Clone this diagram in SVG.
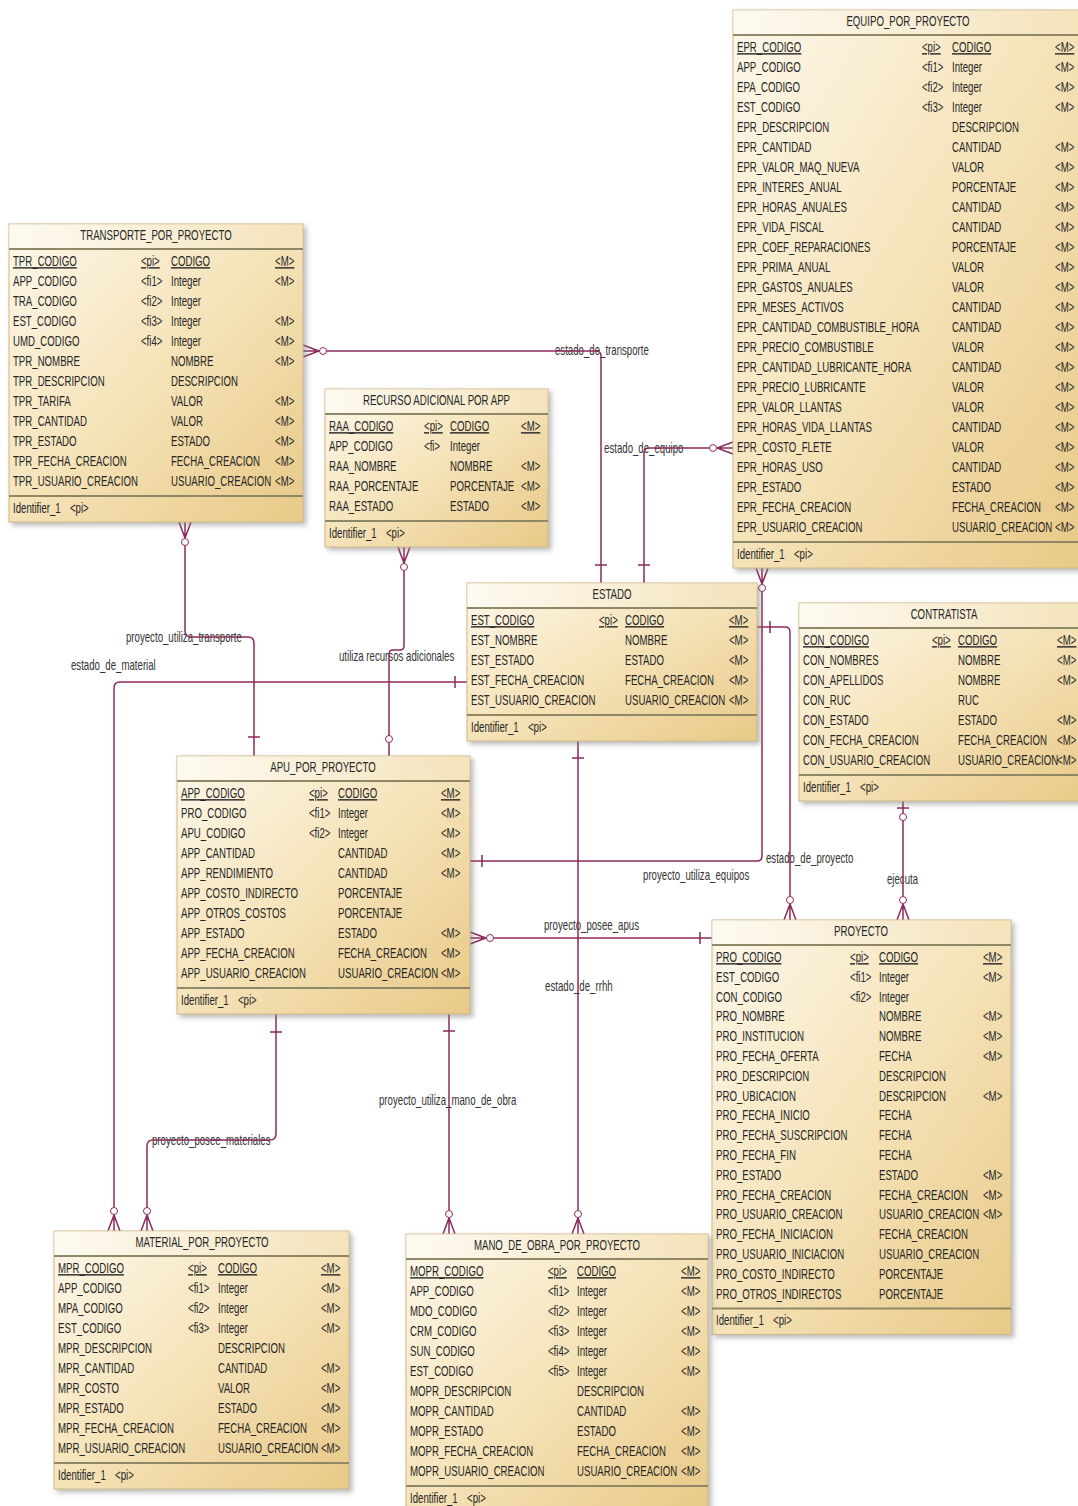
<svg xmlns="http://www.w3.org/2000/svg" width="1078" height="1506" viewBox="0 0 1078 1506">
<defs>
  <linearGradient id="eg" x1="0" y1="0" x2="1" y2="1">
    <stop offset="0" stop-color="#fdf8ec"/>
    <stop offset="0.45" stop-color="#f6e5bd"/>
    <stop offset="1" stop-color="#e8c987"/>
  </linearGradient>
  <linearGradient id="hg" x1="0" y1="0" x2="1" y2="0">
    <stop offset="0" stop-color="#fdfaf1"/>
    <stop offset="1" stop-color="#f4e3bb"/>
  </linearGradient>
  <filter id="sh" x="-5%" y="-5%" width="115%" height="115%">
    <feDropShadow dx="3" dy="3" stdDeviation="2.5" flood-color="#7a7a7a" flood-opacity="0.5"/>
  </filter>
  <style>
    .box{fill:url(#eg);stroke:#cdb88a;stroke-width:1;filter:url(#sh)}
    .hdr{fill:url(#hg)}
    .sep{stroke:#8f8866;stroke-width:2;fill:none}
    text{font-family:"Liberation Sans",Arial,sans-serif;font-size:14px;fill:#262626}
    .ttl{text-anchor:middle}
    .u{text-decoration:underline}
    .lbl{fill:#333}
    .conn path{fill:none;stroke:#8c2b5b;stroke-width:1.5}
    .conn circle{fill:#fff;stroke:#8c2b5b;stroke-width:1}
  </style>
</defs>
<rect width="1078" height="1506" fill="#ffffff"/>

<!-- relationship names (narrow text: x scaled by 0.69) -->
<g id="labels" transform="scale(0.69 1)">
  <text class="lbl" x="804.3" y="355">estado_de_transporte</text>
  <text class="lbl" x="875.4" y="453">estado_de_equipo</text>
  <text class="lbl" x="182.6" y="642">proyecto_utiliza_transporte</text>
  <text class="lbl" x="102.9" y="670">estado_de_material</text>
  <text class="lbl" x="491.3" y="661">utiliza recursos adicionales</text>
  <text class="lbl" x="1110.1" y="863">estado_de_proyecto</text>
  <text class="lbl" x="931.9" y="880">proyecto_utiliza_equipos</text>
  <text class="lbl" x="1285.5" y="884">ejecuta</text>
  <text class="lbl" x="788.4" y="930">proyecto_posee_apus</text>
  <text class="lbl" x="789.9" y="991">estado_de_rrhh</text>
  <text class="lbl" x="549.3" y="1105">proyecto_utiliza_mano_de_obra</text>
  <text class="lbl" x="220.3" y="1145">proyecto_posee_materiales</text>
</g>

<!-- relationships -->
<g id="connectors" class="conn">
  <!-- estado_de_transporte -->
  <path d="M326.5 351H596Q601 351 601 356V583M595 565H607M303 345L319 351L303 357M303 351H319"/>
  <circle cx="323" cy="351" r="3.5"/>
  <!-- estado_de_equipo -->
  <path d="M709.5 448H649Q644 448 644 453V583M638 565H650M733 442L717 448L733 454M733 448H717"/>
  <circle cx="713" cy="448" r="3.5"/>
  <!-- proyecto_utiliza_equipos -->
  <path d="M762 591.5V856Q762 861 757 861H470M482 855V867M756 568L762 584L768 568M762 568V584"/>
  <circle cx="762" cy="588" r="3.5"/>
  <!-- estado_de_proyecto -->
  <path d="M757 627H785Q790 627 790 632V896.5M770 621V633M784 920L790 904L796 920M790 920V904"/>
  <circle cx="790" cy="900" r="3.5"/>
  <!-- ejecuta -->
  <path d="M903 801V813.5M903 820.5V896.5M897 808H909M897 920L903 904L909 920M903 920V904"/>
  <circle cx="903" cy="817" r="3.5"/>
  <circle cx="903" cy="900" r="3.5"/>
  <!-- proyecto_posee_apus -->
  <path d="M493.5 938H712M700 932V944M470 932L486 938L470 944M470 938H486"/>
  <circle cx="490" cy="938" r="3.5"/>
  <!-- estado_de_rrhh -->
  <path d="M578 741V1210.5M572 758H584M572 1234L578 1218L584 1234M578 1234V1218"/>
  <circle cx="578" cy="1214" r="3.5"/>
  <!-- proyecto_utiliza_mano_de_obra -->
  <path d="M449 1014V1210.5M443 1031H455M443 1234L449 1218L455 1234M449 1234V1218"/>
  <circle cx="449" cy="1214" r="3.5"/>
  <!-- proyecto_posee_materiales -->
  <path d="M276 1014V1134Q276 1140 270 1140H153Q147 1140 147 1146V1207.5M270 1032H282M141 1231L147 1215L153 1231M147 1231V1215"/>
  <circle cx="147" cy="1211" r="3.5"/>
  <!-- estado_de_material -->
  <path d="M467 682H120Q114 682 114 688V1207.5M455 676V688M108 1231L114 1215L120 1231M114 1231V1215"/>
  <circle cx="114" cy="1211" r="3.5"/>
  <!-- proyecto_utiliza_transporte -->
  <path d="M185 545.5V631Q185 637 191 637H248Q254 637 254 643V756M248 737H260M179 522L185 538L191 522M185 522V538"/>
  <circle cx="185" cy="542" r="3.5"/>
  <!-- utiliza recursos adicionales -->
  <path d="M404 570.5V646Q404 650 400 650H393Q389 650 389 654V735.5M389 742.5V756M398 547L404 563L410 547M404 547V563"/>
  <circle cx="404" cy="567" r="3.5"/>
  <circle cx="389" cy="739" r="3.5"/>
</g>

<!-- EQUIPO_POR_PROYECTO -->
<g id="equipo_por_proyecto">
  <rect class="box" x="733" y="10" width="347" height="558"/>
  <rect class="hdr" x="733.5" y="10.5" width="346" height="24.5"/>
  <path class="sep" d="M733 35H1080M733 542H1080"/>
  <g transform="scale(0.69 1)">
    <text class="ttl" x="1315.9" y="26.5">EQUIPO_POR_PROYECTO</text>
    <text><tspan class="u" x="1068.1" y="52">EPR_CODIGO</tspan><tspan x="1068.1" dy="20">APP_CODIGO</tspan><tspan x="1068.1" dy="20">EPA_CODIGO</tspan><tspan x="1068.1" dy="20">EST_CODIGO</tspan><tspan x="1068.1" dy="20">EPR_DESCRIPCION</tspan><tspan x="1068.1" dy="20">EPR_CANTIDAD</tspan><tspan x="1068.1" dy="20">EPR_VALOR_MAQ_NUEVA</tspan><tspan x="1068.1" dy="20">EPR_INTERES_ANUAL</tspan><tspan x="1068.1" dy="20">EPR_HORAS_ANUALES</tspan><tspan x="1068.1" dy="20">EPR_VIDA_FISCAL</tspan><tspan x="1068.1" dy="20">EPR_COEF_REPARACIONES</tspan><tspan x="1068.1" dy="20">EPR_PRIMA_ANUAL</tspan><tspan x="1068.1" dy="20">EPR_GASTOS_ANUALES</tspan><tspan x="1068.1" dy="20">EPR_MESES_ACTIVOS</tspan><tspan x="1068.1" dy="20">EPR_CANTIDAD_COMBUSTIBLE_HORA</tspan><tspan x="1068.1" dy="20">EPR_PRECIO_COMBUSTIBLE</tspan><tspan x="1068.1" dy="20">EPR_CANTIDAD_LUBRICANTE_HORA</tspan><tspan x="1068.1" dy="20">EPR_PRECIO_LUBRICANTE</tspan><tspan x="1068.1" dy="20">EPR_VALOR_LLANTAS</tspan><tspan x="1068.1" dy="20">EPR_HORAS_VIDA_LLANTAS</tspan><tspan x="1068.1" dy="20">EPR_COSTO_FLETE</tspan><tspan x="1068.1" dy="20">EPR_HORAS_USO</tspan><tspan x="1068.1" dy="20">EPR_ESTADO</tspan><tspan x="1068.1" dy="20">EPR_FECHA_CREACION</tspan><tspan x="1068.1" dy="20">EPR_USUARIO_CREACION</tspan></text>
    <text><tspan class="u" x="1336.2" y="52">&lt;pi&gt;</tspan><tspan x="1336.2" y="72">&lt;fi1&gt;</tspan><tspan x="1336.2" y="92">&lt;fi2&gt;</tspan><tspan x="1336.2" y="112">&lt;fi3&gt;</tspan></text>
    <text><tspan class="u" x="1379.7" y="52">CODIGO</tspan><tspan x="1379.7" dy="20">Integer</tspan><tspan x="1379.7" dy="20">Integer</tspan><tspan x="1379.7" dy="20">Integer</tspan><tspan x="1379.7" dy="20">DESCRIPCION</tspan><tspan x="1379.7" dy="20">CANTIDAD</tspan><tspan x="1379.7" dy="20">VALOR</tspan><tspan x="1379.7" dy="20">PORCENTAJE</tspan><tspan x="1379.7" dy="20">CANTIDAD</tspan><tspan x="1379.7" dy="20">CANTIDAD</tspan><tspan x="1379.7" dy="20">PORCENTAJE</tspan><tspan x="1379.7" dy="20">VALOR</tspan><tspan x="1379.7" dy="20">VALOR</tspan><tspan x="1379.7" dy="20">CANTIDAD</tspan><tspan x="1379.7" dy="20">CANTIDAD</tspan><tspan x="1379.7" dy="20">VALOR</tspan><tspan x="1379.7" dy="20">CANTIDAD</tspan><tspan x="1379.7" dy="20">VALOR</tspan><tspan x="1379.7" dy="20">VALOR</tspan><tspan x="1379.7" dy="20">CANTIDAD</tspan><tspan x="1379.7" dy="20">VALOR</tspan><tspan x="1379.7" dy="20">CANTIDAD</tspan><tspan x="1379.7" dy="20">ESTADO</tspan><tspan x="1379.7" dy="20">FECHA_CREACION</tspan><tspan x="1379.7" dy="20">USUARIO_CREACION</tspan></text>
    <text><tspan class="u" x="1529" y="52">&lt;M&gt;</tspan><tspan x="1529" y="72">&lt;M&gt;</tspan><tspan x="1529" y="92">&lt;M&gt;</tspan><tspan x="1529" y="112">&lt;M&gt;</tspan><tspan x="1529" y="152">&lt;M&gt;</tspan><tspan x="1529" y="172">&lt;M&gt;</tspan><tspan x="1529" y="192">&lt;M&gt;</tspan><tspan x="1529" y="212">&lt;M&gt;</tspan><tspan x="1529" y="232">&lt;M&gt;</tspan><tspan x="1529" y="252">&lt;M&gt;</tspan><tspan x="1529" y="272">&lt;M&gt;</tspan><tspan x="1529" y="292">&lt;M&gt;</tspan><tspan x="1529" y="312">&lt;M&gt;</tspan><tspan x="1529" y="332">&lt;M&gt;</tspan><tspan x="1529" y="352">&lt;M&gt;</tspan><tspan x="1529" y="372">&lt;M&gt;</tspan><tspan x="1529" y="392">&lt;M&gt;</tspan><tspan x="1529" y="412">&lt;M&gt;</tspan><tspan x="1529" y="432">&lt;M&gt;</tspan><tspan x="1529" y="452">&lt;M&gt;</tspan><tspan x="1529" y="472">&lt;M&gt;</tspan><tspan x="1529" y="492">&lt;M&gt;</tspan><tspan x="1529" y="512">&lt;M&gt;</tspan><tspan x="1529" y="532">&lt;M&gt;</tspan></text>
    <text x="1068.1" y="559">Identifier_1<tspan x="1150.7">&lt;pi&gt;</tspan></text>
  </g>
</g>

<!-- TRANSPORTE_POR_PROYECTO -->
<g id="transporte_por_proyecto">
  <rect class="box" x="9" y="224" width="294" height="298"/>
  <rect class="hdr" x="9.5" y="224.5" width="293" height="24.5"/>
  <path class="sep" d="M9 249H303M9 496H303"/>
  <g transform="scale(0.69 1)">
    <text class="ttl" x="226.1" y="240.5">TRANSPORTE_POR_PROYECTO</text>
    <text><tspan class="u" x="18.8" y="266">TPR_CODIGO</tspan><tspan x="18.8" dy="20">APP_CODIGO</tspan><tspan x="18.8" dy="20">TRA_CODIGO</tspan><tspan x="18.8" dy="20">EST_CODIGO</tspan><tspan x="18.8" dy="20">UMD_CODIGO</tspan><tspan x="18.8" dy="20">TPR_NOMBRE</tspan><tspan x="18.8" dy="20">TPR_DESCRIPCION</tspan><tspan x="18.8" dy="20">TPR_TARIFA</tspan><tspan x="18.8" dy="20">TPR_CANTIDAD</tspan><tspan x="18.8" dy="20">TPR_ESTADO</tspan><tspan x="18.8" dy="20">TPR_FECHA_CREACION</tspan><tspan x="18.8" dy="20">TPR_USUARIO_CREACION</tspan></text>
    <text><tspan class="u" x="204.3" y="266">&lt;pi&gt;</tspan><tspan x="204.3" y="286">&lt;fi1&gt;</tspan><tspan x="204.3" y="306">&lt;fi2&gt;</tspan><tspan x="204.3" y="326">&lt;fi3&gt;</tspan><tspan x="204.3" y="346">&lt;fi4&gt;</tspan></text>
    <text><tspan class="u" x="247.8" y="266">CODIGO</tspan><tspan x="247.8" dy="20">Integer</tspan><tspan x="247.8" dy="20">Integer</tspan><tspan x="247.8" dy="20">Integer</tspan><tspan x="247.8" dy="20">Integer</tspan><tspan x="247.8" dy="20">NOMBRE</tspan><tspan x="247.8" dy="20">DESCRIPCION</tspan><tspan x="247.8" dy="20">VALOR</tspan><tspan x="247.8" dy="20">VALOR</tspan><tspan x="247.8" dy="20">ESTADO</tspan><tspan x="247.8" dy="20">FECHA_CREACION</tspan><tspan x="247.8" dy="20">USUARIO_CREACION</tspan></text>
    <text><tspan class="u" x="398.6" y="266">&lt;M&gt;</tspan><tspan x="398.6" y="286">&lt;M&gt;</tspan><tspan x="398.6" y="326">&lt;M&gt;</tspan><tspan x="398.6" y="346">&lt;M&gt;</tspan><tspan x="398.6" y="366">&lt;M&gt;</tspan><tspan x="398.6" y="406">&lt;M&gt;</tspan><tspan x="398.6" y="426">&lt;M&gt;</tspan><tspan x="398.6" y="446">&lt;M&gt;</tspan><tspan x="398.6" y="466">&lt;M&gt;</tspan><tspan x="398.6" y="486">&lt;M&gt;</tspan></text>
    <text x="18.8" y="513">Identifier_1<tspan x="101.4">&lt;pi&gt;</tspan></text>
  </g>
</g>

<!-- RECURSO ADICIONAL POR APP -->
<g id="recurso_adicional_por_app">
  <rect class="box" x="325" y="389" width="223" height="158"/>
  <rect class="hdr" x="325.5" y="389.5" width="222" height="24.5"/>
  <path class="sep" d="M325 414H548M325 521H548"/>
  <g transform="scale(0.69 1)">
    <text class="ttl" x="632.6" y="405.5">RECURSO ADICIONAL POR APP</text>
    <text><tspan class="u" x="476.8" y="431">RAA_CODIGO</tspan><tspan x="476.8" dy="20">APP_CODIGO</tspan><tspan x="476.8" dy="20">RAA_NOMBRE</tspan><tspan x="476.8" dy="20">RAA_PORCENTAJE</tspan><tspan x="476.8" dy="20">RAA_ESTADO</tspan></text>
    <text><tspan class="u" x="614.5" y="431">&lt;pi&gt;</tspan><tspan x="614.5" y="451">&lt;fi&gt;</tspan></text>
    <text><tspan class="u" x="652.2" y="431">CODIGO</tspan><tspan x="652.2" dy="20">Integer</tspan><tspan x="652.2" dy="20">NOMBRE</tspan><tspan x="652.2" dy="20">PORCENTAJE</tspan><tspan x="652.2" dy="20">ESTADO</tspan></text>
    <text><tspan class="u" x="755.1" y="431">&lt;M&gt;</tspan><tspan x="755.1" y="471">&lt;M&gt;</tspan><tspan x="755.1" y="491">&lt;M&gt;</tspan><tspan x="755.1" y="511">&lt;M&gt;</tspan></text>
    <text x="476.8" y="538">Identifier_1<tspan x="559.4">&lt;pi&gt;</tspan></text>
  </g>
</g>

<!-- ESTADO -->
<g id="estado">
  <rect class="box" x="467" y="583" width="290" height="158"/>
  <rect class="hdr" x="467.5" y="583.5" width="289" height="24.5"/>
  <path class="sep" d="M467 608H757M467 715H757"/>
  <g transform="scale(0.69 1)">
    <text class="ttl" x="887" y="599.5">ESTADO</text>
    <text><tspan class="u" x="682.6" y="625">EST_CODIGO</tspan><tspan x="682.6" dy="20">EST_NOMBRE</tspan><tspan x="682.6" dy="20">EST_ESTADO</tspan><tspan x="682.6" dy="20">EST_FECHA_CREACION</tspan><tspan x="682.6" dy="20">EST_USUARIO_CREACION</tspan></text>
    <text><tspan class="u" x="868.1" y="625">&lt;pi&gt;</tspan></text>
    <text><tspan class="u" x="905.8" y="625">CODIGO</tspan><tspan x="905.8" dy="20">NOMBRE</tspan><tspan x="905.8" dy="20">ESTADO</tspan><tspan x="905.8" dy="20">FECHA_CREACION</tspan><tspan x="905.8" dy="20">USUARIO_CREACION</tspan></text>
    <text><tspan class="u" x="1056.5" y="625">&lt;M&gt;</tspan><tspan x="1056.5" dy="20">&lt;M&gt;</tspan><tspan x="1056.5" dy="20">&lt;M&gt;</tspan><tspan x="1056.5" dy="20">&lt;M&gt;</tspan><tspan x="1056.5" dy="20">&lt;M&gt;</tspan></text>
    <text x="682.6" y="732">Identifier_1<tspan x="765.2">&lt;pi&gt;</tspan></text>
  </g>
</g>

<!-- CONTRATISTA -->
<g id="contratista">
  <rect class="box" x="799" y="603" width="290" height="198"/>
  <rect class="hdr" x="799.5" y="603.5" width="289" height="24.5"/>
  <path class="sep" d="M799 628H1089M799 775H1089"/>
  <g transform="scale(0.69 1)">
    <text class="ttl" x="1368.1" y="619.5">CONTRATISTA</text>
    <text><tspan class="u" x="1163.8" y="645">CON_CODIGO</tspan><tspan x="1163.8" dy="20">CON_NOMBRES</tspan><tspan x="1163.8" dy="20">CON_APELLIDOS</tspan><tspan x="1163.8" dy="20">CON_RUC</tspan><tspan x="1163.8" dy="20">CON_ESTADO</tspan><tspan x="1163.8" dy="20">CON_FECHA_CREACION</tspan><tspan x="1163.8" dy="20">CON_USUARIO_CREACION</tspan></text>
    <text><tspan class="u" x="1350.7" y="645">&lt;pi&gt;</tspan></text>
    <text><tspan class="u" x="1388.4" y="645">CODIGO</tspan><tspan x="1388.4" dy="20">NOMBRE</tspan><tspan x="1388.4" dy="20">NOMBRE</tspan><tspan x="1388.4" dy="20">RUC</tspan><tspan x="1388.4" dy="20">ESTADO</tspan><tspan x="1388.4" dy="20">FECHA_CREACION</tspan><tspan x="1388.4" dy="20">USUARIO_CREACION</tspan></text>
    <text><tspan class="u" x="1531.9" y="645">&lt;M&gt;</tspan><tspan x="1531.9" y="665">&lt;M&gt;</tspan><tspan x="1531.9" y="685">&lt;M&gt;</tspan><tspan x="1531.9" y="725">&lt;M&gt;</tspan><tspan x="1531.9" y="745">&lt;M&gt;</tspan><tspan x="1531.9" y="765">&lt;M&gt;</tspan></text>
    <text x="1163.8" y="792">Identifier_1<tspan x="1246.4">&lt;pi&gt;</tspan></text>
  </g>
</g>

<!-- APU_POR_PROYECTO -->
<g id="apu_por_proyecto">
  <rect class="box" x="177" y="756" width="293" height="258"/>
  <rect class="hdr" x="177.5" y="756.5" width="292" height="24.5"/>
  <path class="sep" d="M177 781H470M177 988H470"/>
  <g transform="scale(0.69 1)">
    <text class="ttl" x="468.1" y="772.5">APU_POR_PROYECTO</text>
    <text><tspan class="u" x="262.3" y="798">APP_CODIGO</tspan><tspan x="262.3" dy="20">PRO_CODIGO</tspan><tspan x="262.3" dy="20">APU_CODIGO</tspan><tspan x="262.3" dy="20">APP_CANTIDAD</tspan><tspan x="262.3" dy="20">APP_RENDIMIENTO</tspan><tspan x="262.3" dy="20">APP_COSTO_INDIRECTO</tspan><tspan x="262.3" dy="20">APP_OTROS_COSTOS</tspan><tspan x="262.3" dy="20">APP_ESTADO</tspan><tspan x="262.3" dy="20">APP_FECHA_CREACION</tspan><tspan x="262.3" dy="20">APP_USUARIO_CREACION</tspan></text>
    <text><tspan class="u" x="447.8" y="798">&lt;pi&gt;</tspan><tspan x="447.8" y="818">&lt;fi1&gt;</tspan><tspan x="447.8" y="838">&lt;fi2&gt;</tspan></text>
    <text><tspan class="u" x="489.9" y="798">CODIGO</tspan><tspan x="489.9" dy="20">Integer</tspan><tspan x="489.9" dy="20">Integer</tspan><tspan x="489.9" dy="20">CANTIDAD</tspan><tspan x="489.9" dy="20">CANTIDAD</tspan><tspan x="489.9" dy="20">PORCENTAJE</tspan><tspan x="489.9" dy="20">PORCENTAJE</tspan><tspan x="489.9" dy="20">ESTADO</tspan><tspan x="489.9" dy="20">FECHA_CREACION</tspan><tspan x="489.9" dy="20">USUARIO_CREACION</tspan></text>
    <text><tspan class="u" x="639.1" y="798">&lt;M&gt;</tspan><tspan x="639.1" y="818">&lt;M&gt;</tspan><tspan x="639.1" y="838">&lt;M&gt;</tspan><tspan x="639.1" y="858">&lt;M&gt;</tspan><tspan x="639.1" y="878">&lt;M&gt;</tspan><tspan x="639.1" y="938">&lt;M&gt;</tspan><tspan x="639.1" y="958">&lt;M&gt;</tspan><tspan x="639.1" y="978">&lt;M&gt;</tspan></text>
    <text x="262.3" y="1005">Identifier_1<tspan x="344.9">&lt;pi&gt;</tspan></text>
  </g>
</g>

<!-- PROYECTO -->
<g id="proyecto">
  <rect class="box" x="712" y="920" width="299" height="414.4"/>
  <rect class="hdr" x="712.5" y="920.5" width="298" height="24.5"/>
  <path class="sep" d="M712 945H1011M712 1308.4H1011"/>
  <g transform="scale(0.69 1)">
    <text class="ttl" x="1247.8" y="936.5">PROYECTO</text>
    <text><tspan class="u" x="1037.7" y="962">PRO_CODIGO</tspan><tspan x="1037.7" dy="19.8">EST_CODIGO</tspan><tspan x="1037.7" dy="19.8">CON_CODIGO</tspan><tspan x="1037.7" dy="19.8">PRO_NOMBRE</tspan><tspan x="1037.7" dy="19.8">PRO_INSTITUCION</tspan><tspan x="1037.7" dy="19.8">PRO_FECHA_OFERTA</tspan><tspan x="1037.7" dy="19.8">PRO_DESCRIPCION</tspan><tspan x="1037.7" dy="19.8">PRO_UBICACION</tspan><tspan x="1037.7" dy="19.8">PRO_FECHA_INICIO</tspan><tspan x="1037.7" dy="19.8">PRO_FECHA_SUSCRIPCION</tspan><tspan x="1037.7" dy="19.8">PRO_FECHA_FIN</tspan><tspan x="1037.7" dy="19.8">PRO_ESTADO</tspan><tspan x="1037.7" dy="19.8">PRO_FECHA_CREACION</tspan><tspan x="1037.7" dy="19.8">PRO_USUARIO_CREACION</tspan><tspan x="1037.7" dy="19.8">PRO_FECHA_INICIACION</tspan><tspan x="1037.7" dy="19.8">PRO_USUARIO_INICIACION</tspan><tspan x="1037.7" dy="19.8">PRO_COSTO_INDIRECTO</tspan><tspan x="1037.7" dy="19.8">PRO_OTROS_INDIRECTOS</tspan></text>
    <text><tspan class="u" x="1231.9" y="962">&lt;pi&gt;</tspan><tspan x="1231.9" y="981.8">&lt;fi1&gt;</tspan><tspan x="1231.9" y="1001.6">&lt;fi2&gt;</tspan></text>
    <text><tspan class="u" x="1273.9" y="962">CODIGO</tspan><tspan x="1273.9" dy="19.8">Integer</tspan><tspan x="1273.9" dy="19.8">Integer</tspan><tspan x="1273.9" dy="19.8">NOMBRE</tspan><tspan x="1273.9" dy="19.8">NOMBRE</tspan><tspan x="1273.9" dy="19.8">FECHA</tspan><tspan x="1273.9" dy="19.8">DESCRIPCION</tspan><tspan x="1273.9" dy="19.8">DESCRIPCION</tspan><tspan x="1273.9" dy="19.8">FECHA</tspan><tspan x="1273.9" dy="19.8">FECHA</tspan><tspan x="1273.9" dy="19.8">FECHA</tspan><tspan x="1273.9" dy="19.8">ESTADO</tspan><tspan x="1273.9" dy="19.8">FECHA_CREACION</tspan><tspan x="1273.9" dy="19.8">USUARIO_CREACION</tspan><tspan x="1273.9" dy="19.8">FECHA_CREACION</tspan><tspan x="1273.9" dy="19.8">USUARIO_CREACION</tspan><tspan x="1273.9" dy="19.8">PORCENTAJE</tspan><tspan x="1273.9" dy="19.8">PORCENTAJE</tspan></text>
    <text><tspan class="u" x="1424.6" y="962">&lt;M&gt;</tspan><tspan x="1424.6" y="981.8">&lt;M&gt;</tspan><tspan x="1424.6" y="1021.4">&lt;M&gt;</tspan><tspan x="1424.6" y="1041.2">&lt;M&gt;</tspan><tspan x="1424.6" y="1061">&lt;M&gt;</tspan><tspan x="1424.6" y="1100.6">&lt;M&gt;</tspan><tspan x="1424.6" y="1179.8">&lt;M&gt;</tspan><tspan x="1424.6" y="1199.6">&lt;M&gt;</tspan><tspan x="1424.6" y="1219.4">&lt;M&gt;</tspan></text>
    <text x="1037.7" y="1325.4">Identifier_1<tspan x="1120.3">&lt;pi&gt;</tspan></text>
  </g>
</g>

<!-- MATERIAL_POR_PROYECTO -->
<g id="material_por_proyecto">
  <rect class="box" x="54" y="1231" width="295" height="258"/>
  <rect class="hdr" x="54.5" y="1231.5" width="294" height="24.5"/>
  <path class="sep" d="M54 1256H349M54 1463H349"/>
  <g transform="scale(0.69 1)">
    <text class="ttl" x="292.8" y="1247.5">MATERIAL_POR_PROYECTO</text>
    <text><tspan class="u" x="84.1" y="1273">MPR_CODIGO</tspan><tspan x="84.1" dy="20">APP_CODIGO</tspan><tspan x="84.1" dy="20">MPA_CODIGO</tspan><tspan x="84.1" dy="20">EST_CODIGO</tspan><tspan x="84.1" dy="20">MPR_DESCRIPCION</tspan><tspan x="84.1" dy="20">MPR_CANTIDAD</tspan><tspan x="84.1" dy="20">MPR_COSTO</tspan><tspan x="84.1" dy="20">MPR_ESTADO</tspan><tspan x="84.1" dy="20">MPR_FECHA_CREACION</tspan><tspan x="84.1" dy="20">MPR_USUARIO_CREACION</tspan></text>
    <text><tspan class="u" x="272.5" y="1273">&lt;pi&gt;</tspan><tspan x="272.5" y="1293">&lt;fi1&gt;</tspan><tspan x="272.5" y="1313">&lt;fi2&gt;</tspan><tspan x="272.5" y="1333">&lt;fi3&gt;</tspan></text>
    <text><tspan class="u" x="315.9" y="1273">CODIGO</tspan><tspan x="315.9" dy="20">Integer</tspan><tspan x="315.9" dy="20">Integer</tspan><tspan x="315.9" dy="20">Integer</tspan><tspan x="315.9" dy="20">DESCRIPCION</tspan><tspan x="315.9" dy="20">CANTIDAD</tspan><tspan x="315.9" dy="20">VALOR</tspan><tspan x="315.9" dy="20">ESTADO</tspan><tspan x="315.9" dy="20">FECHA_CREACION</tspan><tspan x="315.9" dy="20">USUARIO_CREACION</tspan></text>
    <text><tspan class="u" x="465.2" y="1273">&lt;M&gt;</tspan><tspan x="465.2" y="1293">&lt;M&gt;</tspan><tspan x="465.2" y="1313">&lt;M&gt;</tspan><tspan x="465.2" y="1333">&lt;M&gt;</tspan><tspan x="465.2" y="1373">&lt;M&gt;</tspan><tspan x="465.2" y="1393">&lt;M&gt;</tspan><tspan x="465.2" y="1413">&lt;M&gt;</tspan><tspan x="465.2" y="1433">&lt;M&gt;</tspan><tspan x="465.2" y="1453">&lt;M&gt;</tspan></text>
    <text x="84.1" y="1480">Identifier_1<tspan x="166.7">&lt;pi&gt;</tspan></text>
  </g>
</g>

<!-- MANO_DE_OBRA_POR_PROYECTO -->
<g id="mano_de_obra_por_proyecto">
  <rect class="box" x="406" y="1234" width="302" height="278"/>
  <rect class="hdr" x="406.5" y="1234.5" width="301" height="24.5"/>
  <path class="sep" d="M406 1259H708M406 1486H708"/>
  <g transform="scale(0.69 1)">
    <text class="ttl" x="807.2" y="1250.5">MANO_DE_OBRA_POR_PROYECTO</text>
    <text><tspan class="u" x="594.2" y="1276">MOPR_CODIGO</tspan><tspan x="594.2" dy="20">APP_CODIGO</tspan><tspan x="594.2" dy="20">MDO_CODIGO</tspan><tspan x="594.2" dy="20">CRM_CODIGO</tspan><tspan x="594.2" dy="20">SUN_CODIGO</tspan><tspan x="594.2" dy="20">EST_CODIGO</tspan><tspan x="594.2" dy="20">MOPR_DESCRIPCION</tspan><tspan x="594.2" dy="20">MOPR_CANTIDAD</tspan><tspan x="594.2" dy="20">MOPR_ESTADO</tspan><tspan x="594.2" dy="20">MOPR_FECHA_CREACION</tspan><tspan x="594.2" dy="20">MOPR_USUARIO_CREACION</tspan></text>
    <text><tspan class="u" x="794.2" y="1276">&lt;pi&gt;</tspan><tspan x="794.2" y="1296">&lt;fi1&gt;</tspan><tspan x="794.2" y="1316">&lt;fi2&gt;</tspan><tspan x="794.2" y="1336">&lt;fi3&gt;</tspan><tspan x="794.2" y="1356">&lt;fi4&gt;</tspan><tspan x="794.2" y="1376">&lt;fi5&gt;</tspan></text>
    <text><tspan class="u" x="836.2" y="1276">CODIGO</tspan><tspan x="836.2" dy="20">Integer</tspan><tspan x="836.2" dy="20">Integer</tspan><tspan x="836.2" dy="20">Integer</tspan><tspan x="836.2" dy="20">Integer</tspan><tspan x="836.2" dy="20">Integer</tspan><tspan x="836.2" dy="20">DESCRIPCION</tspan><tspan x="836.2" dy="20">CANTIDAD</tspan><tspan x="836.2" dy="20">ESTADO</tspan><tspan x="836.2" dy="20">FECHA_CREACION</tspan><tspan x="836.2" dy="20">USUARIO_CREACION</tspan></text>
    <text><tspan class="u" x="987" y="1276">&lt;M&gt;</tspan><tspan x="987" y="1296">&lt;M&gt;</tspan><tspan x="987" y="1316">&lt;M&gt;</tspan><tspan x="987" y="1336">&lt;M&gt;</tspan><tspan x="987" y="1356">&lt;M&gt;</tspan><tspan x="987" y="1376">&lt;M&gt;</tspan><tspan x="987" y="1416">&lt;M&gt;</tspan><tspan x="987" y="1436">&lt;M&gt;</tspan><tspan x="987" y="1456">&lt;M&gt;</tspan><tspan x="987" y="1476">&lt;M&gt;</tspan></text>
    <text x="594.2" y="1503">Identifier_1<tspan x="676.8">&lt;pi&gt;</tspan></text>
  </g>
</g>
</svg>
